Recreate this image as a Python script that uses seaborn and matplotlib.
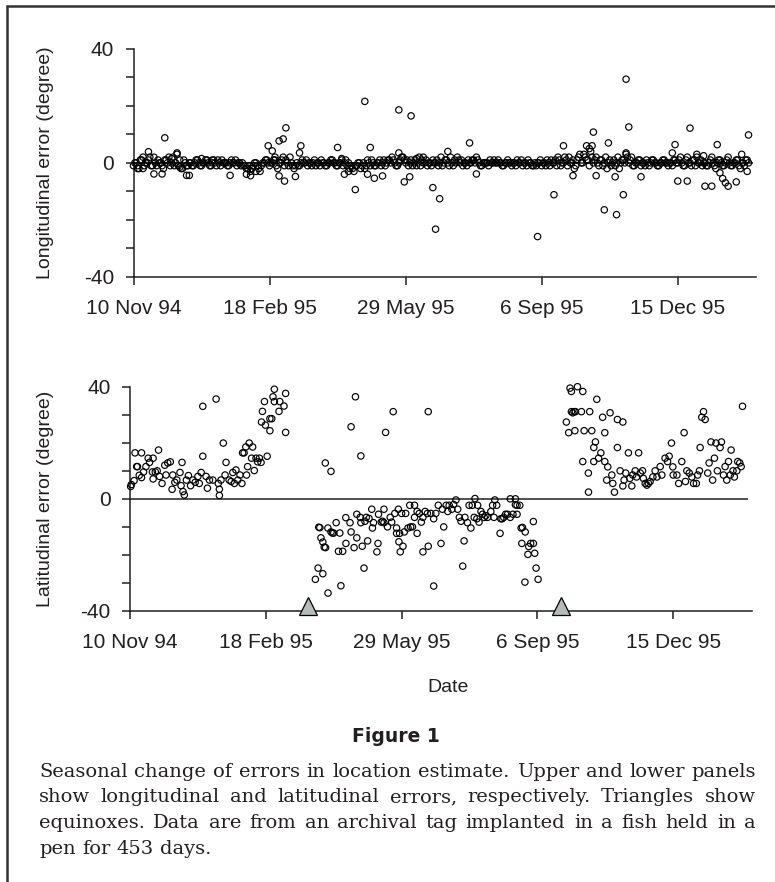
import numpy as np
import pandas as pd
import matplotlib
matplotlib.use("Agg")
import matplotlib.pyplot as plt
import seaborn as sns

# ---------------- data ----------------
tick_days = [0, 100, 200, 300, 400]
tick_labels = ["10 Nov 94", "18 Feb 95", "29 May 95", "6 Sep 95", "15 Dec 95"]
equinox_days = [131, 317]

# Longitudinal error: dense band (even and odd days), plus scattered points
lon_even_days = list(range(0, 454, 2))
lon_even_err = [
    -1, 0, -2, 1, -1, 0, 2, -1, 0, 1,
    0, -2, 1, 2, 0, -1, 3, 1, -2, 0,
    -1, 0, -1, 1, 0, -1, 0, 1, -1, 0,
    0, 1, -1, 0, 0, -1, 1, 0, -1, 0,
    0, -1, -2, -3, -1, 0, -2, -1, 0, 1,
    -1, 0, 1, -2, 0, 2, 1, -1, 0, -2,
    0, -1, 1, 0, -1, 0, 0, -1, 0, 1,
    0, -1, 0, 1, 0, -1, 0, -1, 1, 0,
    -1, -3, -1, 0, -1, -2, 1, -1, 0, -1,
    0, -1, 1, 0, 1, 2, 0, -1, 1, 2,
    0, -1, 1, 0, -1, 2, 1, 0, -1, 0,
    1, 0, -1, 2, 0, 1, -1, 0, 1, 2,
    0, -1, 0, 1, 0, 1, 2, 0, -1, 0,
    0, 1, 0, 0, 1, 0, -1, 0, 0, -1,
    0, 1, 0, -1, 0, 1, 0, -1, -1, 0,
    -1, 0, 1, -1, 0, 1, 2, -1, 0, 1,
    2, 0, -2, 1, 3, 0, 2, 1, 4, 0,
    2, -1, 1, 0, -2, 1, 0, -1, 2, 0,
    1, 3, 0, 2, -1, 0, 1, 0, -1, 0,
    0, 1, 0, -1, 0, 1, 0, 0, -1, 1,
    0, 2, -1, 1, 0, -1, 1, 2, 0, -1,
    0, -1, 1, 0, -2, 1, 0, -1, 1, 0,
    -1, 0, 1, -2, 0, 1, 0,
]
lon_odd_days = list(range(1, 452, 2))
lon_odd_err = [
    0, -1, 1, -2, 0, 1, -1, 2, -1, 0,
    -1, 1, 0, -1, 2, 0, -1, -2, 1, -1,
    0, -1, 0, 1, -1, 0, 1, 0, -1, 1,
    -1, 0, 1, 0, -1, 0, 0, 1, 0, -1,
    -1, -2, -1, -2, 0, -1, -3, 0, 1, 0,
    0, 1, -1, 0, 1, -1, 0, 2, -1, -1,
    -1, 0, 0, 1, 0, -1, 1, 0, -1, 0,
    -1, 0, 1, 0, -1, 0, 1, 0, -1, -2,
    -2, -1, 0, -2, 0, -1, 0, 1, -1, 0,
    1, 0, -1, 1, 0, 1, -1, 0, 2, 1,
    1, 0, -1, 1, 0, -1, 0, 1, 0, -1,
    0, 1, 0, -1, 1, 0, 2, -1, 0, 1,
    1, 0, -1, 0, 1, 0, 1, -1, 0, 0,
    -1, 0, 1, 0, 0, -1, 0, 1, 0, 0,
    -1, 0, 1, 0, -1, 0, -1, 0, 0, 1,
    0, -1, 0, 1, 0, -1, 1, 0, 2, -1,
    0, 1, -1, 2, 0, 3, 1, -1, 2, 1,
    0, 1, -1, 2, 0, -1, 1, 0, -2, 1,
    0, 2, 1, -1, 0, 1, -1, 0, 1, -1,
    1, 0, -1, 0, 1, 0, -1, 0, 1, 0,
    1, 0, -1, 2, 0, 1, -1, 0, 1, 0,
    -1, 0, 2, -1, 0, 1, -1, 0, 2, -1,
    0, 1, -1, 0, -1, 1,
]
lon_extra_days = [3, 7, 11, 15, 21, 23, 28, 32, 34, 39, 41, 50, 58, 71, 83, 86, 90,
                  99, 102, 104, 107, 110, 112, 107, 111, 119, 122, 123, 150, 153, 155,
                  158, 163, 170, 174, 172, 177, 183, 195, 195, 199, 203, 204, 208, 213,
                  220, 225, 222, 231, 247, 252, 297, 309, 316, 323, 333, 335, 337, 338,
                  340, 346, 349, 354, 355, 362, 364, 360, 362, 373, 396, 398, 400, 407,
                  409, 414, 419, 420, 425, 429, 431, 433, 435, 437, 443, 447, 452, 451]
lon_extra_err = [-2, 2, 3.9, -3.9, -3.9, 8.8, 1.5, 3.5, -1.5, -4.4, -4.4, 1.5, 1, -4.4, -4, -4.5, -3,
                 6, 4.2, 2, 7.7, 8.4, 12.3, -4.6, -6.4, -4.8, 3.5, 6, 5.4, 1.5, -4,
                 -3, -9.4, 21.6, 5.4, -4, -5.4, -4.6, 18.6, 3.5, -6.7, -4.9, 16.5, 1.5, 2,
                 -8.7, -12.6, -23.3, 4, 7, -3.9, -25.9, -11.2, 6, -4.5, 6, 5, 6, 10.8,
                 -4.5, -16.5, 7, -4.9, -18.2, 29.4, 12.6, -11.2, 3.5, -4.9, 3.5, 6.4, -6.4, -6.4,
                 12.2, 3, 2.5, -8.2, -8.2, 6.4, -3.5, -5.5, -7, -8.2, -6.7, 3, 9.8, -3]

# Latitudinal error
lat_days = [
    0.5, 1, 3, 3.7, 4.9, 5.5, 6.8, 8.5, 8.5, 10, 11.7, 13.4, 14.4, 16.5, 17, 17, 18.6, 20, 21,
    21.8, 23.6, 25.6, 26.5, 27.8, 29.7, 31, 31.5, 33, 34.5, 36.8, 37.6, 38.3, 39, 40, 41.5, 43,
    44.6, 46.3, 48, 50, 51, 52.4, 53.6, 53.6, 56, 57, 58.5, 61, 63.4, 65, 65.8, 65.8, 67, 68.7,
    70, 70.7, 73, 74.5, 75.7, 76.9, 78, 79.4, 81, 82.4, 82.9, 84, 85.3, 85.8, 86.6, 87.8, 89.5,
    90.3, 91.5, 92.8, 94, 95.3, 96.5, 96.8, 97.5, 99, 99.7, 101, 103, 103, 104.4, 105.3, 106.3,
    106.3, 109.7, 110.3, 113.4, 114.6, 114.6,
    136.5, 138.5, 139, 139.8, 140.6, 142, 142, 143, 143.8, 144, 145.7, 145.8, 148, 148, 149, 150,
    151.8, 153.5, 154.5, 155.3, 156.6, 158.9, 159, 162, 162.8, 162.8, 165, 166, 167, 167, 169.5,
    170, 170, 171, 172.3, 173, 174, 175, 176, 178, 178.5, 179.3, 181.8, 182.6, 183, 185, 186,
    187, 187, 188.2, 189.6, 191.6, 192.7, 193.8, 195, 196.3, 196.3, 197.6, 198, 198.5, 199, 200,
    201, 202, 203, 204.7, 206, 206.6, 208, 209.5, 209.5, 211.4, 211.4, 213, 214.5, 215.7, 215.7,
    217.3, 219, 219.6, 219.6, 221.5, 223.6, 223.6, 225.2, 227, 229, 230, 231, 232.8, 234, 235,
    237, 238.3, 240, 241.3, 242.5, 243.7, 245, 246, 246.6, 248.5, 249.7, 251, 252, 253.4, 254,
    255.4, 256, 257, 258.4, 259.6, 260.8, 262, 263.3, 265.7, 267, 268, 268.6, 270, 272.5, 273,
    274, 275.2, 276.5, 278, 280, 280, 282, 283.8, 283.8, 285, 287, 285, 288, 289, 288.5, 290.8,
    291, 293, 293.6, 295, 297, 297, 298, 299, 300.5,
    321.3, 323, 324, 325, 325, 326, 327, 328, 327.6, 329.5, 332.4, 333.4, 333.4, 334.4, 337.5,
    337.6, 338.5, 340, 341.5, 341.5, 342.7, 343.7, 345, 346.7, 348, 349.6, 349.6, 351, 351.8,
    353.5, 354.8, 355.5, 356.7, 358.9, 358.9, 360.9, 362.9, 362.9, 363.8, 365, 367, 368, 369.5,
    370.2, 372, 373, 374.5, 375.7, 377.4, 378, 379.4, 380.6, 381.8, 383, 385, 386.7, 388, 390.4,
    391.6, 394, 395.8, 397, 398.7, 399.7, 400, 402.7, 404, 406.3, 408, 409, 410, 411.8, 413.7,
    415, 417, 418, 419.3, 419.8, 421, 422.3, 423.5, 425.4, 426.4, 427.8, 429, 430.3, 431.5,
    432.5, 434.5, 435.5, 437, 438.2, 439.4, 440.7, 442, 442.6, 444, 445, 446.8, 447.5, 449, 450,
    451,
]
lat_err = [
    4.4, 5.1, 6.5, 16.4, 11.5, 11.5, 8.4, 16.4, 7.6, 9.6, 11.5, 14.5, 13, 9.6, 14.5, 7.1, 9.6, 10, 17.4,
    8, 5.5, 12, 8.5, 12.8, 13.2, 3.4, 8.5, 5.9, 6.7, 9.4, 4.7, 13, 2.6, 1.4, 6.7, 8.3,
    4.7, 6.7, 5.9, 8, 5.5, 9.4, 33, 15.2, 8, 3.8, 6.7, 6.7, 35.6, 5.5, 3.4, 1.2, 6.7, 19.9,
    8.5, 13, 6.7, 6.2, 9.4, 5.5, 10.3, 6.7, 8.5, 5.5, 16.4, 16.4, 18.5, 8.5, 11.5, 19.9, 14.5,
    18.5, 10.1, 14.5, 13.2, 14.5, 13, 27.4, 31.2, 34.7, 26.3, 15.2, 28.6, 24.3, 28.6, 36.4, 34.7,
    39.1, 31.2, 34.7, 33.1, 37.6, 23.7,
    -28.7, -24.7, -10.1, -10.3, -13.9, -26.7, -15.4, -17.2, 12.8, -17.4, -10.4, -33.6, 9.8, -11.8, -12.2, -12.2,
    -8.5, -18.7, -12.2, -31, -18.7, -6.7, -15.9, -8.5, 25.7, -11.8, -17.4, 36.4, -5.5, -13.9, -6.6,
    15.3, -8.5, -16.9, -24.7, -8, -6.6, -15, -7, -3.7, -10.4, -8.5, -18.9, -15.9, -5.5, -8.3, -8,
    -3.7, -8.5, 23.7, -10, -6.6, -8.3, 31.1, -5.2, -10.4, -12.3, -3.7, -15.3, -12.3, -18.9, -5.2,
    -16.9, -11.8, -5.2, -10.4, -2.3, -10, -10, -2.3, -6.6, -4.5, -12.3, -5.2, -8.3, -18.9, -6.6,
    -4.5, -5.2, 31.1, -16.9, -5.2, -7.1, -31.1, -5.2, -2.3, -15.9, -3.7, -10, -2.3, -4.5, -2.3,
    -3.7, -2, -0.4, -3.7, -6.6, -8, -24, -15, -6.6, -8.5, -2.3, -10.4, -2.3, -6.6, 0.1,
    -7.1, -2.3, -8.3, -4.5, -5.5, -6.6, -6, -6.6, -4.5, -2.3, -6.6, -0.4, -2.3, -12.3, -7.1,
    -7.1, -6.6, -5.5, -5.5, 0, -6.6, -5.5, 0, -2.1, -2.3, -2.3, -5.5, -10.4, -10.2, -15.9, -29.7,
    -11.8, -19.8, -17, -15.9, -8.1, -15.9, -19.4, -24.7, -28.7,
    27.4, 23.6, 39.5, 38.3, 31.1, 30.7, 31.1, 31.1, 24.3, 40, 31.1, 38.3, 13.3, 24.3, 9.2,
    2.4, 31.1, 24.3, 13.3, 18.3, 20.3, 35.5, 14.5, 16.4, 29.1, 13.3, 23.6, 6.7, 11.4,
    30.7, 8.5, 5.5, 2.4, 28.3, 18.3, 10, 27.4, 4.6, 6.7, 9.2, 16.4, 7.3, 4.6,
    8.5, 10, 7.8, 16.4, 9.2, 10, 7.3, 5.5, 4.9, 5.5, 6.2, 7.8, 10, 7.8, 11.5,
    8.5, 14.5, 13.3, 15.2, 19.9, 11.4, 8.5, 8.5, 5.5, 13.3, 23.6, 6.2, 10, 9.2, 7.8,
    5.5, 5.5, 8.5, 10, 18.3, 29.1, 31.1, 28.3, 9.2, 12.8, 20.3, 6.7, 14.5, 19.9,
    10, 18.3, 20.3, 8.5, 11.5, 6.7, 13.3, 8.5, 17.4, 10, 7.8, 10, 13.3, 12.8, 11.5,
    33,
]

caption_title = "Figure 1"
caption_lines = [
    "Seasonal change of errors in location estimate. Upper and lower panels",
    "show longitudinal and latitudinal errors, respectively. Triangles show",
    "equinoxes. Data are from an archival tag implanted in a fish held in a",
    "pen for 453 days.",
]

# ---------------- figure ----------------
sns.set_theme(style="ticks")
plt.rcParams["font.family"] = ["Liberation Sans", "DejaVu Sans"]
INK = "#231f20"

W, H = 775, 882
fig = plt.figure(figsize=(W / 100, H / 100), dpi=100)
fig.patch.set_facecolor("white")


def px_axes(x0, x1, ytop, ybot):
    return fig.add_axes([x0 / W, 1 - ybot / H, (x1 - x0) / W, (ybot - ytop) / H])


ax1 = px_axes(133.5, 756, 49, 276.7)
ax2 = px_axes(130, 752, 386.7, 611)

lon_df = pd.DataFrame({"day": lon_even_days + lon_odd_days + lon_extra_days,
                       "err": lon_even_err + lon_odd_err + lon_extra_err})
lat_df = pd.DataFrame({"day": lat_days, "err": lat_err})

for ax, df, xmax, ylabel in [(ax1, lon_df, 457.5, "Longitudinal error (degree)"),
                             (ax2, lat_df, 458, "Latitudinal error (degree)")]:
    ax.set_facecolor("white")
    ax.hlines(0, 0, 455, color=INK, lw=1.1, zorder=1)
    sns.scatterplot(data=df, x="day", y="err", ax=ax, marker="o", s=21,
                    facecolor="none", edgecolor="black", linewidth=0.85,
                    zorder=3, clip_on=False, legend=False)
    ax.set_xlim(0, xmax)
    ax.set_ylim(-40, 40)
    sns.despine(ax=ax)
    for side in ["left", "bottom"]:
        ax.spines[side].set_color(INK)
        ax.spines[side].set_linewidth(1.1)
    ax.set_yticks(range(-40, 41, 10))
    ax.set_yticklabels(["-40", "", "", "", "0", "", "", "", "40"])
    ax.set_xticks(tick_days)
    ax.set_xticklabels(tick_labels)
    ax.tick_params(axis="both", which="major", direction="out", length=6, width=1.1,
                   color=INK, labelcolor=INK, labelsize=15)
    ax.tick_params(axis="x", pad=10)
    ax.tick_params(axis="y", pad=8)
    ax.set_xlabel("")
    ax.set_ylabel("")
    bb = ax.get_position()
    fig.text(46 / W, bb.y0 + bb.height / 2, ylabel, rotation=90, ha="center", va="center",
             fontsize=14, color=INK)

# equinox triangles
ax2.plot(equinox_days, [-38.3] * len(equinox_days), linestyle="none", marker="^",
         ms=13, mfc="#b5baba", mec="black", mew=0.9, clip_on=False, zorder=4)

fig.text(448 / W, 1 - 687 / H, "Date", ha="center", va="center", fontsize=14, color=INK)

fig.text(396 / W, 1 - 737 / H, caption_title, ha="center", va="center", fontsize=13.5,
         fontweight="bold", family="DejaVu Sans", color=INK)

# justified caption
renderer = fig.canvas.get_renderer()
CAP_FS = 14
X0, X1 = 39, 756
baselines = [777, 802.5, 828, 853.5]
probe1 = fig.text(0, 0, "a a", fontsize=CAP_FS, family="DejaVu Serif")
probe2 = fig.text(0, 0, "aa", fontsize=CAP_FS, family="DejaVu Serif")
space_w = probe1.get_window_extent(renderer).width - probe2.get_window_extent(renderer).width
probe1.remove()
probe2.remove()
for i, (line, yb) in enumerate(zip(caption_lines, baselines)):
    words = line.split(" ")
    objs = [fig.text(0, 1 - yb / H, w, fontsize=CAP_FS, family="DejaVu Serif",
                     ha="left", va="baseline", color=INK) for w in words]
    widths = [o.get_window_extent(renderer).width for o in objs]
    if i < len(caption_lines) - 1:
        gap = (X1 - X0 - sum(widths)) / (len(words) - 1)
    else:
        gap = space_w
    x = X0
    for o, wdt in zip(objs, widths):
        o.set_x(x / W)
        x += wdt + gap

# frame lines (left and top)
fig.add_artist(plt.Line2D([7 / W, 7 / W], [0, 1 - 6 / H], color="#333333", lw=1.8))
fig.add_artist(plt.Line2D([7 / W, 1], [1 - 6 / H, 1 - 6 / H], color="#333333", lw=1.8))

fig.savefig("out.png", dpi=100, facecolor="white")
